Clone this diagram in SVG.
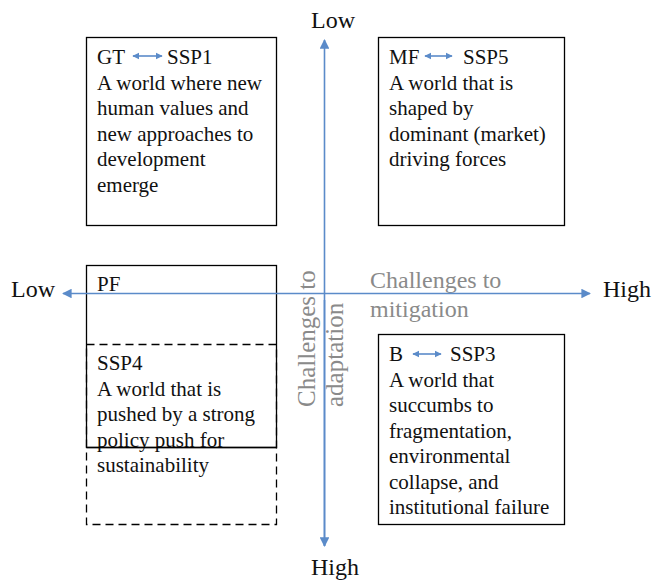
<svg xmlns="http://www.w3.org/2000/svg" width="652" height="582" viewBox="0 0 652 582">
<style>
.box{fill:#fff;stroke:#000;stroke-width:1.3}
.dash{fill:none;stroke:#000;stroke-width:1.3;stroke-dasharray:8 5}
.t{font-family:"Liberation Serif","Times New Roman",serif;font-size:21px;fill:#111}
.ax{font-family:"Liberation Serif","Times New Roman",serif;font-size:24px;fill:#111}
.g{font-family:"Liberation Serif","Times New Roman",serif;font-size:24px;fill:#8a8a8a}
.axis{stroke:#5b8bc9;stroke-width:1.6;fill:none}
.da{stroke:#5b8bc9;stroke-width:1.6;fill:none}
</style>
<defs>
<marker id="ah" viewBox="0 0 10 10" refX="9" refY="5" markerWidth="6" markerHeight="6" markerUnits="strokeWidth" orient="auto-start-reverse">
<path d="M0,0 L10,5 L0,10 z" fill="#5b8bc9"/>
</marker>
<marker id="sh" viewBox="0 0 10 10" refX="9" refY="5" markerWidth="4.5" markerHeight="4.5" markerUnits="strokeWidth" orient="auto-start-reverse">
<path d="M0,0 L10,5 L0,10 z" fill="#5b8bc9"/>
</marker>
</defs>

<g id="node-gt">
<rect class="box" x="86.5" y="37.5" width="190" height="188"/>
<text class="t" x="97" y="64">GT</text>
<line class="da" x1="133" y1="56" x2="162" y2="56" marker-start="url(#sh)" marker-end="url(#sh)"/>
<text class="t" x="167" y="64">SSP1</text>
<text class="t" x="97" y="89.5">A world where new</text>
<text class="t" x="97" y="115">human values and</text>
<text class="t" x="97" y="140.5">new approaches to</text>
<text class="t" x="97" y="166">development</text>
<text class="t" x="97" y="191.5">emerge</text>
</g>

<g id="node-mf">
<rect class="box" x="378.5" y="37.5" width="186" height="188"/>
<text class="t" x="389" y="64">MF</text>
<line class="da" x1="425" y1="56" x2="452" y2="56" marker-start="url(#sh)" marker-end="url(#sh)"/>
<text class="t" x="463" y="64">SSP5</text>
<text class="t" x="389" y="89.5">A world that is</text>
<text class="t" x="389" y="115">shaped by</text>
<text class="t" x="389" y="140.5">dominant (market)</text>
<text class="t" x="389" y="166">driving forces</text>
</g>

<g id="node-b">
<rect class="box" x="378.5" y="334.5" width="186" height="190"/>
<text class="t" x="389" y="361">B</text>
<line class="da" x1="413" y1="354" x2="441" y2="354" marker-start="url(#sh)" marker-end="url(#sh)"/>
<text class="t" x="450" y="361">SSP3</text>
<text class="t" x="389" y="386.5">A world that</text>
<text class="t" x="389" y="412">succumbs to</text>
<text class="t" x="389" y="437.5">fragmentation,</text>
<text class="t" x="389" y="463">environmental</text>
<text class="t" x="389" y="488.5">collapse, and</text>
<text class="t" x="389" y="514">institutional failure</text>
</g>

<g id="node-pf">
<rect class="box" x="86.5" y="265.5" width="190" height="182"/>
<text class="t" x="97" y="291">PF</text>
</g>

<g id="node-ssp4">
<rect class="dash" x="86.5" y="344.5" width="190" height="180"/>
<text class="t" x="97" y="370">SSP4</text>
<text class="t" x="97" y="395.5">A world that is</text>
<text class="t" x="97" y="421">pushed by a strong</text>
<text class="t" x="97" y="446.5">policy push for</text>
<text class="t" x="97" y="472">sustainability</text>
<line x1="86.5" y1="447.5" x2="276.5" y2="447.5" stroke="#000" stroke-width="1.3"/>
</g>

<g id="labels">
<text class="g" x="370" y="288">Challenges to</text>
<text class="g" x="370" y="317">mitigation</text>
<text class="g" transform="translate(315,407) rotate(-90)" style="font-size:25px">Challenges to</text>
<text class="g" transform="translate(343,407) rotate(-90)" style="font-size:25px">adaptation</text>
<text class="ax" x="311" y="28">Low</text>
<text class="ax" x="311" y="575">High</text>
<text class="ax" x="11" y="297">Low</text>
<text class="ax" x="603" y="297">High</text>
</g>

<g id="connectors">
<line class="axis" x1="324.5" y1="546" x2="324.5" y2="40" marker-end="url(#ah)"/>
<line class="axis" x1="324.5" y1="300" x2="324.5" y2="546" marker-end="url(#ah)"/>
<line class="axis" x1="63" y1="293.5" x2="590" y2="293.5" marker-start="url(#ah)" marker-end="url(#ah)"/>
</g>
</svg>
